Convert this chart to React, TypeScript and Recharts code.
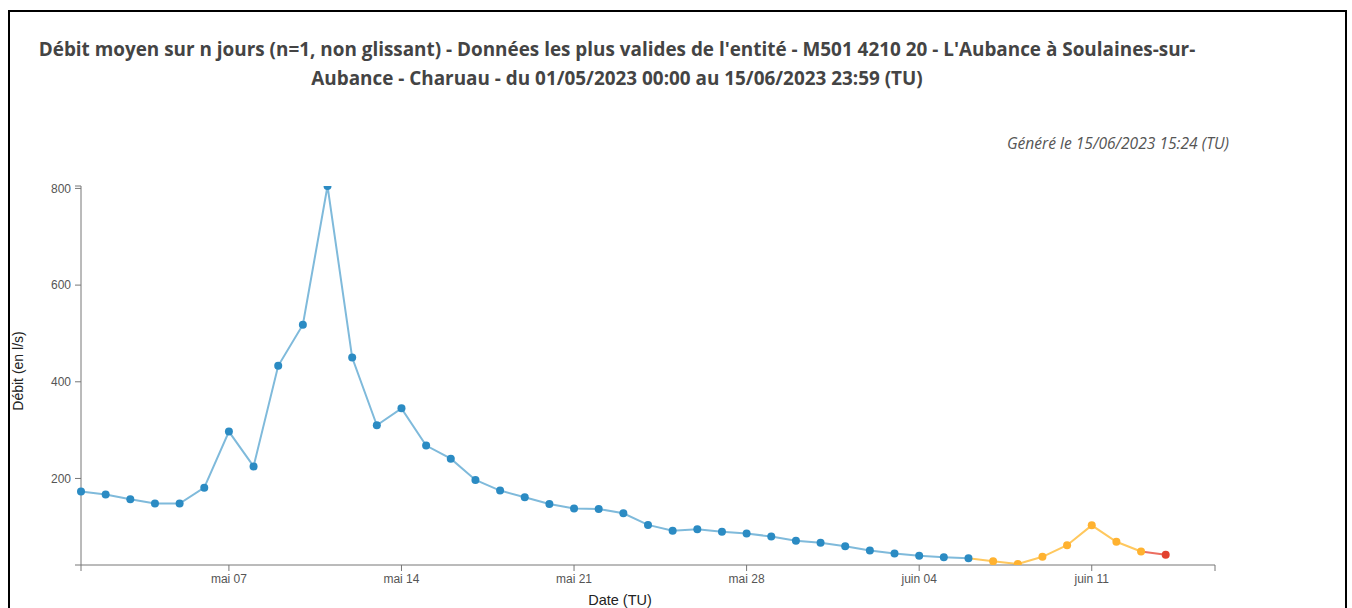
import React from 'react';
import { LineChart, Line, XAxis, YAxis } from 'recharts';

// daily mean flow, l/s
const jours = [
  '2023-05-01', '2023-05-02', '2023-05-03', '2023-05-04', '2023-05-05', '2023-05-06', '2023-05-07',
  '2023-05-08', '2023-05-09', '2023-05-10', '2023-05-11', '2023-05-12', '2023-05-13', '2023-05-14',
  '2023-05-15', '2023-05-16', '2023-05-17', '2023-05-18', '2023-05-19', '2023-05-20', '2023-05-21',
  '2023-05-22', '2023-05-23', '2023-05-24', '2023-05-25', '2023-05-26', '2023-05-27', '2023-05-28',
  '2023-05-29', '2023-05-30', '2023-05-31', '2023-06-01', '2023-06-02', '2023-06-03', '2023-06-04',
  '2023-06-05', '2023-06-06', '2023-06-07', '2023-06-08', '2023-06-09', '2023-06-10', '2023-06-11',
  '2023-06-12', '2023-06-13', '2023-06-14',
];
const debits = [
  173, 167, 157, 148, 148, 181, 297,
  225, 433, 518, 805, 450, 310, 345,
  268, 241, 197, 175, 161, 147, 138,
  137, 128, 104, 92, 95, 90, 86,
  80, 71, 67, 60, 51, 45, 40,
  37, 35, 29, 23, 38, 62, 103,
  69, 49, 42,
];
// B = validée (bleu), O = provisoire (orange), R = brute (rouge)
const qualites = [
  'B', 'B', 'B', 'B', 'B', 'B', 'B',
  'B', 'B', 'B', 'B', 'B', 'B', 'B',
  'B', 'B', 'B', 'B', 'B', 'B', 'B',
  'B', 'B', 'B', 'B', 'B', 'B', 'B',
  'B', 'B', 'B', 'B', 'B', 'B', 'B',
  'B', 'B', 'O', 'O', 'O', 'O', 'O',
  'O', 'O', 'R',
];

const debutPeriode = '2023-05-01';
const finPeriode = '2023-06-16';
const xTickJours = ['2023-05-07', '2023-05-14', '2023-05-21', '2023-05-28', '2023-06-04', '2023-06-11'];
const xTickLabels = ['mai 07', 'mai 14', 'mai 21', 'mai 28', 'juin 04', 'juin 11'];
const yTicks = [200, 400, 600, 800];
const yPlancher = 21;

const couleurs: Record<string, { line: string; dot: string }> = {
  B: { line: '#7fbadb', dot: '#2b8bc3' },
  O: { line: '#ffc85e', dot: '#ffb230' },
  R: { line: '#ec6e60', dot: '#e2422f' },
};

const ts = (d: string) => Date.parse(d + 'T00:00:00Z');

const data = jours.map((j, i) => {
  const row: any = { t: ts(j), v: debits[i], q: qualites[i] };
  for (const s of ['B', 'O', 'R']) {
    const inSerie = qualites[i] === s || qualites[i + 1] === s;
    row[s] = inSerie ? debits[i] : null;
  }
  return row;
});

const xMin = ts(debutPeriode);
const xMax = ts(finPeriode);
const xTicks = [xMin, ...xTickJours.map(ts), xMax];
const xLabel = (v: number) => {
  const k = xTickJours.map(ts).indexOf(v);
  return k >= 0 ? xTickLabels[k] : '';
};
const yMax = Math.max(...debits);
const yAllTicks = [yPlancher, ...yTicks, yMax];
const yLabel = (v: number) => (yTicks.includes(v) ? String(v) : '');

const tickStyle = { fill: '#555', fontSize: 12, fontFamily: '"Liberation Sans", Arial, sans-serif' };

const makeDot = (serie: string) => (props: any) => {
  const { cx, cy, payload, index } = props;
  if (payload.q !== serie || cy == null) return <g key={`${serie}-${index}`} />;
  return <circle key={`${serie}-${index}`} cx={cx} cy={cy} r={4} fill={couleurs[serie].dot} />;
};

export default function App() {
  return (
    <div style={{ position: 'absolute', left: 0, top: 0, width: 1352, height: 608, overflow: 'hidden', background: '#fff' }}>
      <div
        style={{
          position: 'absolute', left: 8, top: 10, width: 1339, height: 700,
          border: '2px solid #000', boxSizing: 'border-box',
        }}
      />
      <div
        style={{
          position: 'absolute', left: 0, width: 1234, top: 35, textAlign: 'center',
          fontFamily: '"Open Sans", sans-serif', fontWeight: 700, fontSize: 18.9, lineHeight: '29px', color: '#444',
        }}
      >
        <div>Débit moyen sur n jours (n=1, non glissant) - Données les plus valides de l'entité - M501 4210 20 - L'Aubance à Soulaines-sur-</div>
        <div>Aubance - Charuau - du 01/05/2023 00:00 au 15/06/2023 23:59 (TU)</div>
      </div>
      <div
        style={{
          position: 'absolute', right: 1352 - 1229, top: 132, fontFamily: '"Open Sans", sans-serif',
          fontStyle: 'italic', fontSize: 15.6, color: '#555',
        }}
      >
        Généré le 15/06/2023 15:24 (TU)
      </div>
      <div
        style={{
          position: 'absolute', left: 18, top: 371, transform: 'translate(-50%, -50%) rotate(-90deg)',
          whiteSpace: 'nowrap', fontFamily: '"Liberation Sans", Arial, sans-serif', fontSize: 14, color: '#222',
        }}
      >
        Débit (en l/s)
      </div>
      <div
        style={{
          position: 'absolute', left: 620, top: 600, transform: 'translate(-50%, -50%)',
          whiteSpace: 'nowrap', fontFamily: '"Liberation Sans", Arial, sans-serif', fontSize: 14.5, color: '#222',
        }}
      >
        Date (TU)
      </div>
      <div style={{ position: 'absolute', left: 0, top: 0 }}>
        <LineChart width={1352} height={608} data={data} margin={{ top: 186, right: 137, bottom: 13, left: 21 }}>
          <XAxis
            dataKey="t"
            type="number"
            scale="time"
            domain={[xMin, xMax]}
            ticks={xTicks}
            tickFormatter={xLabel}
            interval={0}
            height={30}
            stroke="#777"
            tick={tickStyle}
            tickSize={6}
            tickMargin={3}
          />
          <YAxis
            type="number"
            domain={[yPlancher, yMax]}
            allowDataOverflow
            ticks={yAllTicks}
            tickFormatter={yLabel}
            interval={0}
            width={60}
            stroke="#777"
            tick={tickStyle}
            tickSize={6}
            tickMargin={4}
          />
          {['B', 'O', 'R'].map((s) => (
            <Line
              key={s}
              dataKey={s}
              type="linear"
              stroke={couleurs[s].line}
              strokeWidth={2}
              dot={makeDot(s)}
              activeDot={false}
              connectNulls={false}
              isAnimationActive={false}
            />
          ))}
        </LineChart>
      </div>
    </div>
  );
}
